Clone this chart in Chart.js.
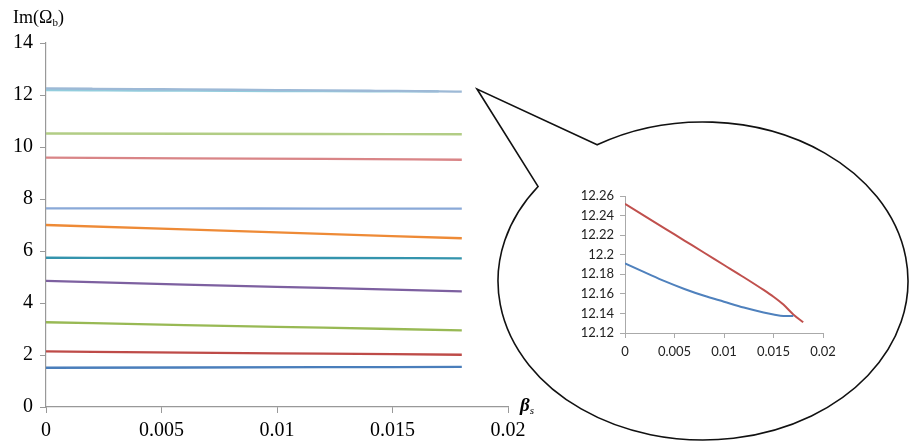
<!DOCTYPE html>
<html>
<head>
<meta charset="utf-8">
<script src="https://cdn.jsdelivr.net/npm/chart.js@4.4.1/dist/chart.umd.min.js"></script>
<style>
  html, body { margin: 0; padding: 0; background: #fff; }
  #wrap { position: relative; width: 909px; height: 443px; overflow: hidden; }
  #main { position: absolute; left: 0; top: 0; }
  #zoom { position: absolute; left: 560px; top: 180px; }
  .lbl { position: absolute; font-family: "Liberation Serif", "Times New Roman", serif; color: #000; white-space: nowrap; }
  #ylab { left: 13px; top: 7px; font-size: 18px; }
  #ylab sub { font-size: 11px; vertical-align: -3px; }
  #xlab { left: 520px; top: 394px; font-size: 19px; font-style: italic; font-weight: bold; }
  #xlab sub { font-size: 11px; vertical-align: -3px; font-weight: normal; }
</style>
</head>
<body>
<div id="wrap">
  <canvas id="main" width="909" height="443"></canvas>
  <canvas id="zoom" width="290" height="190"></canvas>
  <div class="lbl" id="ylab">Im(Ω<sub>b</sub>)</div>
  <div class="lbl" id="xlab">β<sub>s</sub></div>
</div>
<script>
// Structural damping coefficient β_s sampled along each branch
const betaMain = [0, 0.006, 0.012, 0.018];

// Im(Ω_b) for the lower branches
const branch1  = [1.51, 1.52, 1.53, 1.54];
const branch2  = [2.14, 2.09, 2.05, 2.01];
const branch3  = [3.26, 3.15, 3.05, 2.95];
const branch4  = [4.85, 4.71, 4.58, 4.45];
const branch5  = [5.74, 5.73, 5.73, 5.72];
const branch6  = [7.00, 6.83, 6.66, 6.49];
const branch7  = [7.64, 7.64, 7.63, 7.63];
const branch8  = [9.59, 9.56, 9.54, 9.51];
const branch9  = [10.52, 10.51, 10.50, 10.49];

// The two close branches near 12.2, sampled finely (also shown enlarged)
const betaFine    = [0, 0.002, 0.004, 0.006, 0.008, 0.010, 0.012, 0.014, 0.015, 0.016, 0.017, 0.018];
const branchUpper = [12.252, 12.2395, 12.227, 12.2145, 12.202, 12.1895, 12.177, 12.164, 12.157, 12.149, 12.139, 12.131];
const branchLower = [12.191, 12.182, 12.173, 12.165, 12.158, 12.152, 12.146, 12.141, 12.139, 12.1375, 12.1375, null];

// Axis ticks
const mainYTicks = [0, 2, 4, 6, 8, 10, 12, 14];
const mainXTicks = [0, 0.005, 0.01, 0.015, 0.02];
const zoomYTicks = [12.12, 12.14, 12.16, 12.18, 12.2, 12.22, 12.24, 12.26];
const zoomXTicks = [0, 0.005, 0.01, 0.015, 0.02];

function pts(xs, ys) {
  const out = [];
  xs.forEach((x, i) => { if (ys[i] !== null && ys[i] !== undefined) out.push({ x: x, y: ys[i] }); });
  return out;
}
function line(xs, ys, color, width) {
  return {
    data: pts(xs, ys), borderColor: color, backgroundColor: color,
    borderWidth: width, pointRadius: 0, fill: false,
    cubicInterpolationMode: 'monotone'
  };
}

// Speech-bubble outline that frames the enlarged view
const bubble = {
  id: 'bubble',
  afterDraw(chart) {
    const ctx = chart.ctx;
    const cx = 703, cy = 281, rx = 205, ry = 159;
    const tipX = 477, tipY = 89;
    const aStart = Math.atan2(-0.849, -0.512);  // upper joint of the tail
    const aEnd = Math.atan2(-0.591, -0.800);    // lower joint of the tail
    const ax = cx + rx * Math.cos(aStart), ay = cy + ry * Math.sin(aStart);
    const bx = cx + rx * Math.cos(aEnd), by = cy + ry * Math.sin(aEnd);
    ctx.save();
    ctx.beginPath();
    ctx.moveTo(ax, ay);
    ctx.lineTo(tipX, tipY);
    ctx.lineTo(bx, by);
    ctx.ellipse(cx, cy, rx, ry, 0, aEnd, aStart, true);
    ctx.closePath();
    ctx.fillStyle = '#fff';
    ctx.fill();
    ctx.lineWidth = 1.6;
    ctx.strokeStyle = '#111';
    ctx.lineJoin = 'miter';
    ctx.stroke();
    ctx.restore();
  }
};

const serifTick = { family: '"Liberation Serif", "Times New Roman", serif', size: 20 };

new Chart(document.getElementById('main'), {
  type: 'line',
  data: {
    datasets: [
      line(betaMain, branch1, '#4A7EBB', 2.3),
      line(betaMain, branch2, '#BE4B48', 2.3),
      line(betaMain, branch3, '#98B954', 2.3),
      line(betaMain, branch4, '#7D60A0', 2.3),
      line(betaMain, branch5, '#3494AD', 2.3),
      line(betaMain, branch6, '#EE8A36', 2.3),
      line(betaMain, branch7, '#8AA9D8', 2.3),
      line(betaMain, branch8, '#D98587', 2.3),
      line(betaMain, branch9, '#B2CD85', 2.3),
      line(betaFine, branchUpper, '#9DB9D6', 2.3),
      line(betaFine, branchLower, '#93CDDD', 2.3)
    ]
  },
  options: {
    responsive: false,
    animation: false,
    events: [],
    layout: { padding: { top: 43, right: 401, left: 0, bottom: 0 } },
    plugins: { legend: { display: false }, tooltip: { enabled: false }, title: { display: false } },
    scales: {
      x: {
        type: 'linear', min: 0, max: 0.02,
        afterBuildTicks(axis) { axis.ticks = mainXTicks.map(v => ({ value: v })); },
        afterFit(axis) { axis.height = 36; },
        ticks: { color: '#000', font: serifTick, padding: 6, maxRotation: 0, autoSkip: false,
                 callback: v => String(v) },
        grid: { drawOnChartArea: false, drawTicks: true, tickLength: 6, color: '#999' },
        border: { color: '#999', width: 1.2 }
      },
      y: {
        type: 'linear', min: 0, max: 14,
        afterBuildTicks(axis) { axis.ticks = mainYTicks.map(v => ({ value: v })); },
        afterFit(axis) { axis.width = 46; },
        ticks: { color: '#000', font: serifTick, padding: 7, callback: v => String(v) },
        grid: { drawOnChartArea: false, drawTicks: true, tickLength: 6, color: '#999' },
        border: { color: '#999', width: 1.2 }
      }
    }
  },
  plugins: [bubble]
});

const sansTick = { family: 'Lato, "Open Sans", sans-serif', size: 13 };

new Chart(document.getElementById('zoom'), {
  type: 'line',
  data: {
    datasets: [
      line(betaFine, branchLower, '#4F81BD', 2),
      line(betaFine, branchUpper, '#C0504D', 2)
    ]
  },
  options: {
    responsive: false,
    animation: false,
    events: [],
    layout: { padding: { top: 16, right: 27, left: 0, bottom: 0 } },
    plugins: { legend: { display: false }, tooltip: { enabled: false } },
    scales: {
      x: {
        type: 'linear', min: 0, max: 0.02,
        afterBuildTicks(axis) { axis.ticks = zoomXTicks.map(v => ({ value: v })); },
        afterFit(axis) { axis.height = 37; },
        ticks: { color: '#222', font: sansTick, padding: 6, maxRotation: 0, autoSkip: false,
                 callback: v => String(v) },
        grid: { drawOnChartArea: false, drawTicks: true, tickLength: 5, color: '#aaa' },
        border: { color: '#aaa', width: 1 }
      },
      y: {
        type: 'linear', min: 12.12, max: 12.26,
        afterBuildTicks(axis) { axis.ticks = zoomYTicks.map(v => ({ value: v })); },
        afterFit(axis) { axis.width = 65; },
        ticks: { color: '#222', font: sansTick, padding: 6, callback: v => String(+v.toFixed(2)) },
        grid: { drawOnChartArea: false, drawTicks: true, tickLength: 5, color: '#aaa' },
        border: { color: '#aaa', width: 1 }
      }
    }
  }
});
</script>
</body>
</html>
